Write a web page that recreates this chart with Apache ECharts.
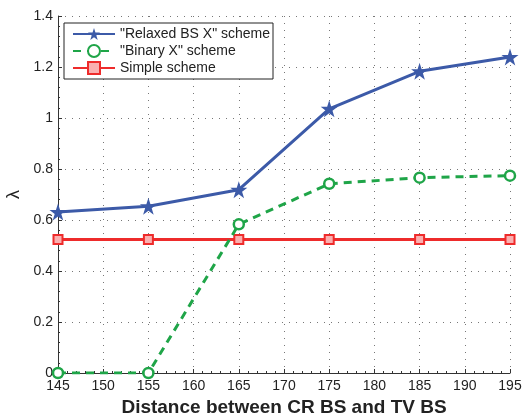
<!DOCTYPE html>
<html><head><meta charset="utf-8">
<script src="https://cdn.jsdelivr.net/npm/echarts@6/dist/echarts.min.js"></script>
<style>html,body{margin:0;padding:0;background:#fff}#c{width:524px;height:413px}</style>
</head><body><div id="c"></div>
<script>
const distances = [145, 155, 165, 175, 185, 195];
const relaxed = [0.631, 0.654, 0.719, 1.036, 1.183, 1.239];
const binary = [0, 0, 0.583, 0.742, 0.766, 0.774];
const simple = [0.524, 0.524, 0.524, 0.524, 0.524, 0.524];
const seriesNames = ['"Relaxed BS X" scheme', '"Binary X" scheme', 'Simple scheme'];
const xLabel = 'Distance between CR BS and TV BS';
const yLabel = 'λ';

const star = 'path://M50,0 L61.8,35.3 L99,35.3 L69,57.2 L80.4,92.5 L50,70.7 L19.6,92.5 L31,57.2 L1,35.3 L38.2,35.3 Z';
const chart = echarts.init(document.getElementById('c'));
const FONT = 'Liberation Sans, Arial, sans-serif';
const pair = arr => distances.map((d, i) => [d, arr[i]]);
chart.setOption({
  animation: false,
  grid: {left: 58, right: 14, top: 16, bottom: 40, outerBoundsMode: 'none', containLabel: false},
  legend: {
    orient: 'vertical', left: 64, top: 23, width: 208,
    padding: [4, 3, 4, 8], itemGap: 3, itemWidth: 42, itemHeight: 15,
    borderColor: '#222', borderWidth: 1, backgroundColor: '#fff',
    textStyle: {fontFamily: FONT, fontSize: 14, color: '#222', padding: [0, 0, 0, 0]},
    data: seriesNames
  },
  xAxis: {
    type: 'value', min: 145, max: 195, interval: 5,
    name: xLabel, nameLocation: 'middle', nameGap: 24,
    nameTextStyle: {fontFamily: FONT, fontSize: 19, fontWeight: 'bold', color: '#222'},
    axisLine: {lineStyle: {color: '#333', width: 1}},
    axisTick: {inside: true, length: 4, lineStyle: {color: '#333'}},
    minorTick: {show: true, splitNumber: 5, length: 2, lineStyle: {color: '#333'}},
    axisLabel: {fontFamily: FONT, fontSize: 14, color: '#222', margin: 6},
    splitLine: {show: true, lineStyle: {color: '#777', type: [1, 6], width: 1}}
  },
  yAxis: {
    type: 'value', min: 0, max: 1.4, interval: 0.2,
    name: yLabel, nameLocation: 'middle', nameGap: 31,
    nameTextStyle: {fontFamily: FONT, fontSize: 18, color: '#222'},
    axisLine: {show: true, lineStyle: {color: '#333', width: 1}},
    axisTick: {show: true, inside: true, length: 4, lineStyle: {color: '#333'}},
    minorTick: {show: true, splitNumber: 5, length: 2, lineStyle: {color: '#333'}},
    axisLabel: {fontFamily: FONT, fontSize: 14, color: '#222', margin: 5,
      formatter: v => String(Math.round(v * 10) / 10)},
    splitLine: {show: true, lineStyle: {color: '#777', type: [1, 6], width: 1}}
  },
  series: [
    {name: seriesNames[0], type: 'line', data: pair(relaxed), z: 3,
      lineStyle: {color: '#3c5aa8', width: 3},
      itemStyle: {color: '#3c5aa8'},
      symbol: star, symbolSize: 17},
    {name: seriesNames[1], type: 'line', data: pair(binary), z: 2,
      lineStyle: {color: '#1fa548', width: 3, type: [8, 6]},
      itemStyle: {color: '#fff', borderColor: '#1fa548', borderWidth: 2.5},
      symbol: 'circle', symbolSize: 10},
    {name: seriesNames[2], type: 'line', data: pair(simple), z: 1,
      lineStyle: {color: '#ee2b2b', width: 3},
      itemStyle: {color: '#f9b0b0', borderColor: '#ee2b2b', borderWidth: 2},
      symbol: 'rect', symbolSize: 9}
  ]
});
</script></body></html>
